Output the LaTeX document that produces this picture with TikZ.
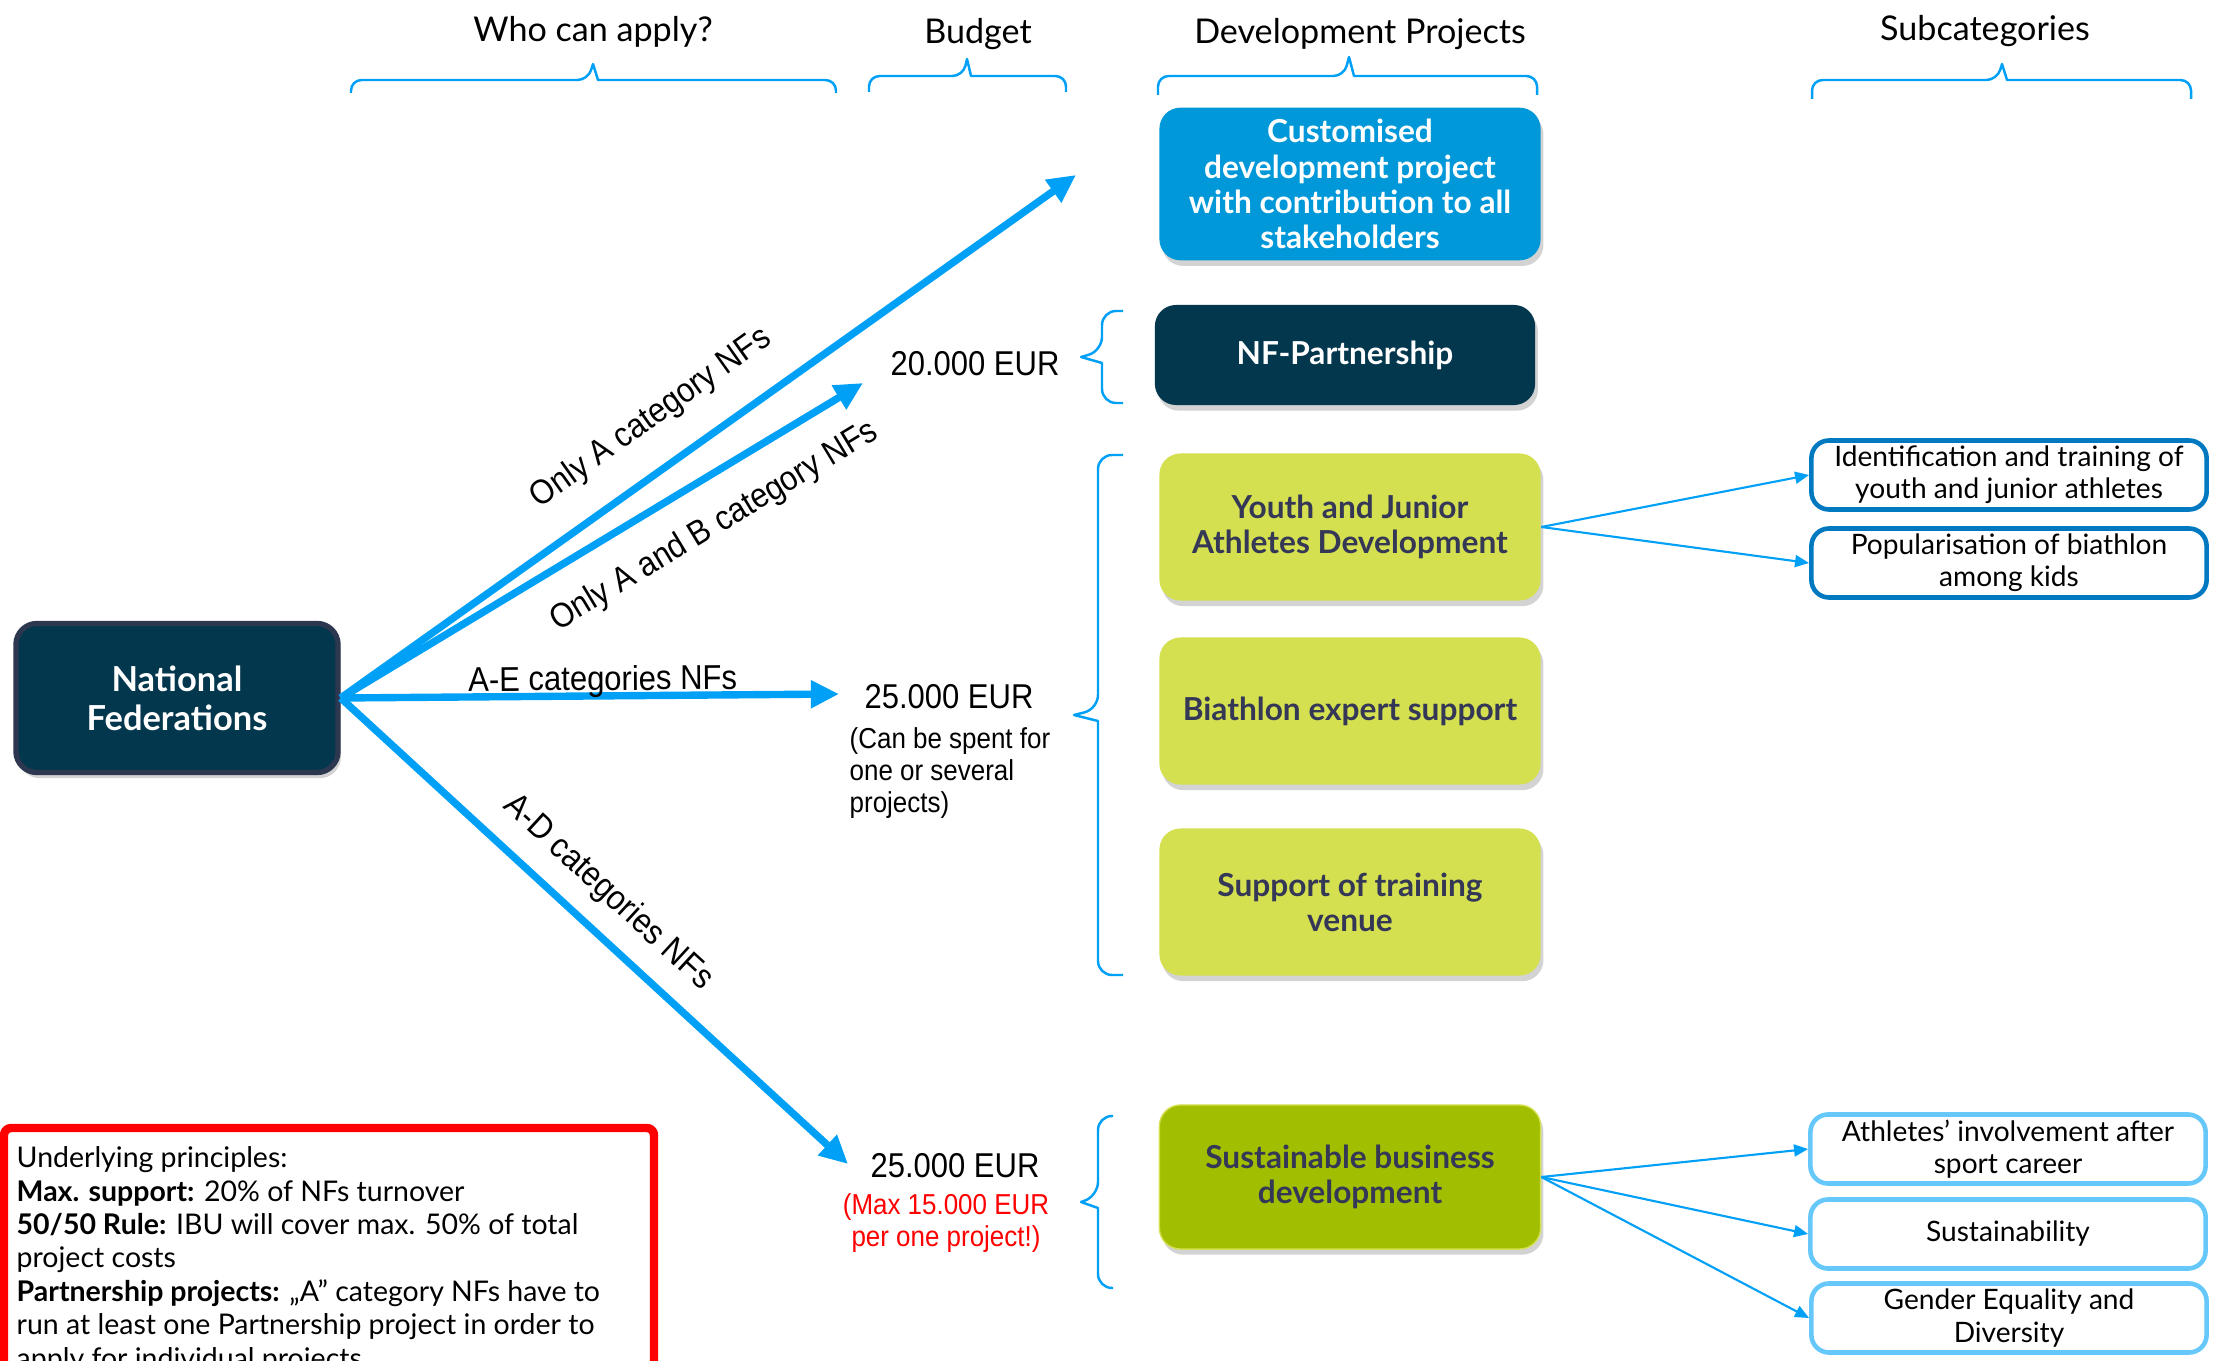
\documentclass[tikz,border=0pt]{standalone}
\usepackage{fontspec}
\setmainfont{Lato}
\newfontfamily\helv{Liberation Sans}[FakeStretch=0.9]
\usetikzlibrary{arrows.meta,shadows,positioning}
\definecolor{nfnavy}{RGB}{3,55,77}
\definecolor{nfedge}{RGB}{45,55,80}
\definecolor{arrowblue}{RGB}{0,160,246}
\definecolor{custblue}{RGB}{0,152,216}
\definecolor{limegreen}{RGB}{212,224,80}
\definecolor{olivegreen}{RGB}{162,190,0}
\definecolor{slate}{RGB}{52,56,86}
\definecolor{subdark}{RGB}{0,121,193}
\definecolor{sublight}{RGB}{102,200,250}
\tikzset{
  proj/.style={rounded corners=6pt,minimum width=3.81cm,minimum height=1.47cm,align=center,
    font=\fontsize{9}{10}\selectfont\bfseries,
    drop shadow={opacity=0.35,shadow xshift=0.8pt,shadow yshift=-1.6pt}},
  subbox/.style={draw,line width=1.3pt,rounded corners=5pt,fill=white,minimum width=3.95cm,
    minimum height=0.69cm,align=center,inner sep=1pt,font=\fontsize{8}{9.2}\selectfont},
  header/.style={font=\fontsize{9.7}{11}\selectfont},
  brc/.style={draw=arrowblue,line width=0.7pt},
  bigarrow/.style={draw=arrowblue,line width=2.1pt,-{Triangle[length=8pt,width=7.5pt]}},
  subarrow/.style={draw=arrowblue,line width=0.6pt,-{Triangle[length=4pt,width=3.4pt]}},
  lbl/.style={font=\helv\fontsize{9.8}{11}\selectfont,inner sep=0pt},
  budget/.style={font=\helv\fontsize{9.8}{11}\selectfont},
  note/.style={font=\helv\fontsize{8.2}{9.1}\selectfont,inner sep=0pt}
}
\begin{document}
\begin{tikzpicture}[x=0.01cm,y=-0.01cm,line join=round]
  \useasboundingbox (0,0) rectangle (2215,1361);
  \clip (0,0) rectangle (2215,1361);
  \node[header] (who) at (593,32) {Who can apply?};
  \node[header] (budget) at (978,34) {Budget};
  \node[header] (devproj) at (1360,34) {Development Projects};
  \node[header] (subcat) at (1985,31) {Subcategories};
  \draw[brc] (351,93) [rounded corners=3pt] -- (351,80) -- (588,80) [sharp corners] -- (593,64)
    -- (598,80) [rounded corners=3pt] -- (836,80) -- (836,93);
  \draw[brc] (869,92) [rounded corners=3pt] -- (869,76) -- (963,76) [sharp corners] -- (967,59)
    -- (971,76) [rounded corners=3pt] -- (1066,76) -- (1066,92);
  \draw[brc] (1158,95) [rounded corners=3pt] -- (1158,76) -- (1344,76) [sharp corners] -- (1349,57)
    -- (1354,76) [rounded corners=3pt] -- (1537,76) -- (1537,95);
  \draw[brc] (1812,99) [rounded corners=3pt] -- (1812,80) -- (1997,80) [sharp corners] -- (2002,64)
    -- (2007,80) [rounded corners=3pt] -- (2191,80) -- (2191,99);

  \node[proj,fill=nfnavy,draw=nfedge,line width=1.5pt,minimum width=3.22cm,minimum height=1.49cm,
    text=white,font=\fontsize{9.8}{11}\selectfont\bfseries] (nf) at (177,698) {National\\Federations};

  \node[proj,fill=custblue,text=white] (custom) at (1350,184) {Customised\\development project\\with contribution to all\\stakeholders};
  \node[proj,fill=nfnavy,text=white,minimum width=3.8cm,minimum height=1cm] (partner) at (1345,355) {NF-Partnership};
  \node[proj,fill=limegreen,text=slate] (youth) at (1350,527) {Youth and Junior\\Athletes Development};
  \node[proj,fill=limegreen,text=slate] (expert) at (1350,711) {Biathlon expert support};
  \node[proj,fill=limegreen,text=slate] (venue) at (1350,902) {Support of training\\venue};
  \node[proj,fill=olivegreen,draw=limegreen,text=slate,minimum height=1.44cm] (business) at (1350,1177) {Sustainable business\\development};

  \node[subbox,draw=subdark] (ident) at (2009,475) {Identification and training of\\youth and junior athletes\vphantom{g}};
  \node[subbox,draw=subdark] (popular) at (2009,563) {Popularisation of biathlon\\among kids\vphantom{g}};
  \node[subbox,draw=sublight] (career) at (2008,1149) {Athletes’ involvement after\\sport career};
  \node[subbox,draw=sublight] (sustain) at (2008,1234) {Sustainability};
  \node[subbox,draw=sublight] (gender) at (2009,1318) {Gender Equality and\\Diversity};

  \node[budget] (eur20) at (975,364) {20.000 EUR};
  \node[budget] (eur25) at (949,697) {25.000 EUR};
  \node[note,anchor=north west,align=left] (spentnote) at (849,727) {(Can be spent for\\one or several\\projects)};
  \node[budget] (eur25b) at (955,1166) {25.000 EUR};
  \node[note,text=red,align=center] (maxnote) at (946,1223) {(Max 15.000 EUR\\per one project!)};

  \draw[brc] (1123,311) [rounded corners=4pt] -- (1102,311) -- (1102,351) [sharp corners] -- (1081,357)
    -- (1102,363) [rounded corners=4pt] -- (1102,403) -- (1123,403);
  \draw[brc] (1123,455) [rounded corners=4pt] -- (1098,455) -- (1098,709) [sharp corners] -- (1074,715)
    -- (1098,721) [rounded corners=4pt] -- (1098,975) -- (1123,975);
  \draw[brc] (1113,1116) [rounded corners=4pt] -- (1098,1116) -- (1098,1196) [sharp corners] -- (1081,1202)
    -- (1098,1208) [rounded corners=4pt] -- (1098,1288) -- (1113,1288);

  \coordinate (tipA) at (1076,175);
  \coordinate (tipAB) at (863,383);
  \coordinate (tipAE) at (839,694);
  \coordinate (tipAD) at (848,1164);
  \draw[bigarrow] (nf.east) -- node[lbl,sloped,pos=0.46,above=8pt] {Only A category NFs} (tipA);
  \draw[bigarrow] (nf.east) -- node[lbl,sloped,pos=0.67,below=7.5pt] {Only A and B category NFs} (tipAB);
  \draw[bigarrow] (nf.east) -- node[lbl,sloped,pos=0.526,above=-1.5pt] {A-E categories NFs} (tipAE);
  \draw[bigarrow] (nf.east) -- node[lbl,sloped,pos=0.477,above=5pt] {A-D categories NFs} (tipAD);

  \draw[subarrow] (youth.east) -- (ident.west);
  \draw[subarrow] (youth.east) -- (popular.west);
  \draw[subarrow] (business.east) -- (career.west);
  \draw[subarrow] (business.east) -- (sustain.west);
  \draw[subarrow] (business.east) -- (gender.west);

  \draw[red,line width=2.4pt,rounded corners=2pt] (4,1128) rectangle (654,1420);
  \node[anchor=north west,align=left,inner sep=0pt,font=\fontsize{8.1}{9.5}\selectfont] (principles) at (16,1146)
    {Underlying principles:\\
     \textbf{Max. support:} 20\% of NFs turnover\\
     \textbf{50/50 Rule:} IBU will cover max. 50\% of total\\
     project costs\\
     \textbf{Partnership projects:} „A” category NFs have to\\
     run at least one Partnership project in order to\\
     apply for individual projects};
\end{tikzpicture}
\end{document}
